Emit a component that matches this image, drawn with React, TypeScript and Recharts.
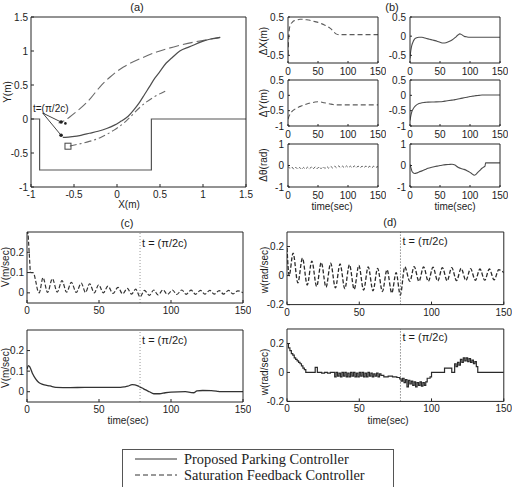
import React from 'react';
import { LineChart, Line, XAxis, YAxis, ReferenceLine, ReferenceDot } from 'recharts';

const FONT = '"Liberation Sans", Arial, sans-serif';
const SERIF = '"Liberation Serif", "Times New Roman", serif';
const INK = '#1c1c1c';
const AXIS = '#262626';
const PROP = '#4d4d4d';
const SAT = '#5c5c5c';

// ---- (a) X-Y plane: parking slot outline and the three paths ----
const lotX = [-1, -0.9, -0.9, 0.4, 0.4, 1.5];
const lotY = [0, 0, -0.75, -0.75, 0, 0];

const propPathX = [1.2, 1.1, 0.97, 0.84, 0.73, 0.64, 0.57, 0.5, 0.44, 0.38, 0.32, 0.26, 0.2, 0.13, 0.05, -0.03, -0.12, -0.22, -0.32, -0.42, -0.52, -0.6, -0.63];
const propPathY = [1.2, 1.18, 1.13, 1.06, 1.0, 0.9, 0.82, 0.7, 0.6, 0.48, 0.36, 0.24, 0.14, 0.04, -0.03, -0.09, -0.14, -0.18, -0.21, -0.24, -0.26, -0.27, -0.27];

const satPathX = [1.2, 1.12, 0.89, 0.66, 0.46, 0.27, 0.075, -0.08, -0.2, -0.31, -0.43, -0.55, -0.62, -0.68];
const satPathY = [1.2, 1.18, 1.13, 1.06, 0.985, 0.887, 0.765, 0.618, 0.47, 0.3, 0.152, 0.03, -0.03, -0.06];

const refPathX = [0.56, 0.425, 0.27, 0.114, -0.04, -0.196, -0.35, -0.507, -0.55];
const refPathY = [0.41, 0.32, 0.176, -0.02, -0.167, -0.275, -0.34, -0.387, -0.4];

const goalX = -0.57;
const goalY = -0.4;
const arrowFrom = [-0.864, 0.088];
const arrowSat = [-0.65, -0.045];
const arrowProp = [-0.65, -0.24];
const satEndDot = [-0.6, -0.065];

// ---- (b) pose errors vs time ----
const dxSatT = [0, 0.5, 1, 2, 4, 7, 10, 15, 20, 25, 30, 35, 40, 45, 50, 55, 60, 65, 70, 75, 80, 85, 90, 100, 110, 120, 130, 140, 150];
const dxSat = [-0.5, -0.3, -0.1, 0.15, 0.3, 0.36, 0.4, 0.42, 0.44, 0.44, 0.43, 0.42, 0.4, 0.38, 0.36, 0.33, 0.3, 0.26, 0.21, 0.14, 0.06, 0.04, 0.04, 0.04, 0.04, 0.04, 0.04, 0.04, 0.04];

const dxPropT = [0, 1, 2, 3, 5, 7, 10, 15, 20, 25, 30, 35, 40, 45, 50, 55, 60, 65, 70, 75, 80, 83, 86, 90, 95, 100, 110, 120, 130, 140, 150];
const dxProp = [-0.58, -0.42, -0.32, -0.24, -0.15, -0.09, -0.05, -0.03, -0.03, -0.05, -0.07, -0.09, -0.11, -0.13, -0.16, -0.18, -0.17, -0.14, -0.1, -0.04, 0.03, 0.06, 0.04, 0.0, -0.02, -0.03, -0.03, -0.03, -0.03, -0.03, -0.03];

const dySatT = [0, 2, 4, 6, 8, 10, 14, 18, 22, 26, 30, 35, 40, 45, 50, 55, 60, 65, 70, 75, 80, 90, 100, 110, 120, 130, 140, 150];
const dySat = [-0.78, -0.67, -0.6, -0.54, -0.5, -0.47, -0.42, -0.38, -0.35, -0.32, -0.29, -0.26, -0.24, -0.22, -0.21, -0.22, -0.24, -0.26, -0.28, -0.3, -0.31, -0.31, -0.31, -0.31, -0.31, -0.31, -0.31, -0.31];

const dyPropT = [0, 1, 2, 3, 5, 7, 10, 15, 20, 25, 30, 40, 50, 55, 60, 65, 70, 75, 80, 85, 90, 95, 100, 105, 110, 115, 120, 130, 140, 150];
const dyProp = [-0.82, -0.7, -0.61, -0.54, -0.45, -0.39, -0.33, -0.27, -0.24, -0.23, -0.22, -0.215, -0.21, -0.2, -0.185, -0.17, -0.155, -0.14, -0.12, -0.1, -0.08, -0.06, -0.04, -0.025, -0.01, 0.0, 0.01, 0.01, 0.01, 0.01];

const dthSatT = [0, 3, 6.5, 9.5, 13, 16, 19.5, 22.5, 26, 29, 32.5, 35.5, 39, 42, 45.5, 48.5, 52, 55, 58.5, 61.5, 65, 68, 71.5, 74.5, 78, 81, 84.5, 87.5, 91, 94, 97.5, 100.5, 104, 107, 110.5, 113.5, 117, 120, 123.5, 126.5, 130, 133, 136.5, 139.5, 143, 146, 150];
const dthSat = [-0.04, -0.13, -0.07, -0.17, -0.08, -0.17, -0.09, -0.18, -0.09, -0.17, -0.08, -0.16, -0.07, -0.16, -0.06, -0.15, -0.05, -0.15, -0.05, -0.14, -0.05, -0.13, -0.04, -0.12, -0.03, -0.11, -0.02, -0.1, -0.03, -0.11, -0.02, -0.1, -0.03, -0.11, -0.02, -0.1, -0.03, -0.11, -0.03, -0.1, -0.02, -0.1, -0.03, -0.11, -0.03, -0.09, -0.05];

const dthPropT = [0, 1, 2, 3, 5, 8, 11, 15, 20, 25, 30, 35, 40, 45, 50, 55, 60, 65, 70, 75, 80, 85, 90, 95, 100, 104, 107, 110, 113, 116, 120, 123, 125, 126, 130, 140, 150];
const dthProp = [0.05, -0.05, -0.15, -0.25, -0.33, -0.37, -0.35, -0.3, -0.25, -0.19, -0.13, -0.09, -0.06, -0.03, 0.0, 0.02, 0.04, 0.05, 0.06, 0.02, -0.08, -0.14, -0.18, -0.24, -0.32, -0.4, -0.45, -0.41, -0.32, -0.24, -0.13, -0.07, -0.03, 0.12, 0.12, 0.12, 0.12];

// ---- (c) linear velocity ----
const vSatT = [0, 0.5, 1.5, 2.5, 4, 5, 6, 7.5, 8.5, 11.1, 14.3, 17.6, 21, 24.3, 27.5, 30.8, 34.2, 37.7, 40.6, 43.5, 46.7, 49.8, 53, 56.2, 59.7, 63.2, 66.4, 69.7, 72.6, 75.5, 78.5, 81.5, 85, 88, 91, 94.5, 97.5, 101, 104, 107.5, 110.5, 114, 117, 120.5, 123.5, 127, 130, 133.5, 136.5, 140, 143, 146.5, 150];
const vSat = [0.29, 0.3, 0.2, 0.1, 0.1, 0.09, 0.06, 0.01, 0.0, 0.075, 0.002, 0.07, 0.004, 0.06, 0.003, 0.052, 0.002, 0.048, 0.002, 0.045, 0.0, 0.04, 0.0, 0.033, -0.003, 0.027, -0.005, 0.022, -0.006, 0.018, -0.02, 0.012, -0.012, 0.014, -0.01, 0.015, -0.008, 0.014, -0.008, 0.014, -0.007, 0.013, -0.007, 0.012, -0.006, 0.012, -0.006, 0.011, -0.006, 0.012, -0.005, 0.01, 0.0];

const vPropT = [0, 1, 2, 4, 6, 8, 10, 12, 16, 20, 30, 40, 50, 60, 65, 68, 70, 73, 75, 78, 80, 82, 85, 88, 92, 96, 100, 110, 114, 116, 118, 122, 128, 132, 134, 150];
const vProp = [0.11, 0.127, 0.12, 0.086, 0.062, 0.046, 0.038, 0.033, 0.028, 0.021, 0.02, 0.021, 0.021, 0.021, 0.021, 0.024, 0.027, 0.034, 0.033, 0.025, 0.018, 0.01, 0.0, -0.01, -0.01, -0.005, -0.002, 0.0, -0.004, -0.005, 0.004, 0.006, 0.005, 0.002, 0.0, 0.0];

// ---- (d) angular velocity ----
const wSatT = [0, 1.5, 4.2, 7.5, 10.7, 14, 17.2, 20.5, 23.7, 27, 30.2, 33.5, 36.7, 40, 43.2, 46.5, 49.7, 53, 56.2, 59.5, 62.7, 66, 69.2, 72.5, 75.5, 78.4, 81.5, 85, 88, 91.3, 94.5, 97.8, 101, 104.3, 107.5, 110.8, 114, 117.3, 120.5, 123.8, 127, 130.3, 133.5, 136.8, 140, 143.3, 146.5, 150];
const wSat = [0.19, 0.0, 0.155, -0.05, 0.12, -0.065, 0.1, -0.075, 0.09, -0.08, 0.085, -0.085, 0.08, -0.09, 0.075, -0.095, 0.07, -0.1, 0.06, -0.105, 0.05, -0.11, 0.04, -0.12, 0.02, -0.135, 0.06, -0.04, 0.062, -0.04, 0.06, -0.04, 0.058, -0.038, 0.055, -0.036, 0.055, -0.035, 0.05, -0.034, 0.048, -0.033, 0.045, -0.032, 0.045, -0.03, 0.04, 0.02];

const wPropT = [0, 1, 2, 3, 4, 5, 6, 7, 8, 9, 10, 11, 12, 13, 19.5, 21, 24, 26, 28, 30,
  33, 34, 35, 36, 37, 38, 39, 40, 41, 42, 43, 44, 45, 46, 47, 48, 49, 50, 51, 52, 53, 54, 55, 56, 57, 58, 59, 60, 61, 62, 63, 64,
  65, 67, 70, 73, 76, 78, 79, 80, 81, 82, 83, 84, 85, 86, 87, 88, 89, 90, 91, 92, 93, 94, 95, 96, 97, 99, 100, 109, 114,
  116, 117, 118, 119, 120, 121, 122, 123, 124, 125, 126, 127, 128, 129, 130, 131, 132, 150];
const wProp = [0.2, 0.17, 0.15, 0.13, 0.12, 0.1, 0.09, 0.08, 0.07, 0.06, 0.045, 0.03, 0.02, 0, 0.035, 0, -0.005, 0, -0.005, 0,
  -0.03, 0, -0.025, -0.005, -0.03, 0, -0.025, 0, -0.03, -0.005, -0.03, 0, -0.025, 0, -0.03, -0.005, -0.03, 0, -0.025, 0, -0.03, -0.005, -0.03, 0, -0.025, -0.005, -0.03, -0.01, -0.025, -0.005, -0.03, -0.01,
  -0.02, -0.03, -0.025, -0.03, -0.035, -0.045, -0.06, -0.04, -0.07, -0.05, -0.1, -0.055, -0.08, -0.06, -0.09, -0.065, -0.1, -0.07, -0.09, -0.065, -0.095, -0.07, -0.09, -0.065, -0.04, -0.03, 0, 0.03, 0,
  0.06, 0.04, 0.07, 0.05, 0.09, 0.07, 0.1, 0.08, 0.1, 0.075, 0.095, 0.07, 0.085, 0.06, 0.075, 0.04, 0, 0];

const timeTicks = [0, 50, 100, 150];
const PI_2C = 78.5;

type Curve = {
  xs: number[];
  ys: number[];
  stroke?: string;
  dash?: string;
  width?: number;
  kind?: 'linear' | 'monotone' | 'natural' | 'stepAfter';
};

interface PanelProps {
  left: number;
  top: number;
  w: number;
  h: number;
  xDomain: [number, number];
  yDomain: [number, number];
  xTicks: number[];
  yTicks: number[];
  curves: Curve[];
  tickLen?: number;
  children?: React.ReactNode;
}

// outer padding around each plot box; every axis is 1px thick, so margins are one less
const ML = 40, MR = 8, MT = 8, MB = 20;

const Panel: React.FC<PanelProps> = ({ left, top, w, h, xDomain, yDomain, xTicks, yTicks, curves, tickLen = 3, children }) => {
    const tickText = { fill: INK, fontSize: 10, fontFamily: FONT };
    const edge = { stroke: AXIS, strokeWidth: 1 };
    return (
        <div style={{ position: 'absolute', left: left - ML, top: top - MT }}>
            <LineChart width={w + ML + MR} height={h + MT + MB} margin={{ top: MT - 1, right: MR - 1, bottom: MB - 1, left: ML - 1 }}>
                <XAxis xAxisId="b" type="number" dataKey="x" domain={xDomain} ticks={xTicks} interval={0} allowDataOverflow
                    height={1} tickSize={-tickLen} tickMargin={7} axisLine={edge} tickLine={edge} tick={tickText} />
                <XAxis xAxisId="t" orientation="top" type="number" dataKey="x" domain={xDomain} ticks={xTicks} interval={0} allowDataOverflow
                    height={1} tickSize={-tickLen} axisLine={edge} tickLine={edge} tick={false} />
                <YAxis yAxisId="l" type="number" domain={yDomain} ticks={yTicks} interval={0} allowDataOverflow
                    width={1} tickSize={-tickLen} tickMargin={6} axisLine={edge} tickLine={edge} tick={tickText} />
                <YAxis yAxisId="r" orientation="right" type="number" domain={yDomain} ticks={yTicks} interval={0} allowDataOverflow
                    width={1} tickSize={-tickLen} axisLine={edge} tickLine={edge} tick={false} />
                {curves.map((c, i) => (
                    <Line
                        key={i}
                        xAxisId="b"
                        yAxisId="l"
                        data={c.xs.map((x, j) => ({ x, y: c.ys[j] }))}
                        dataKey="y"
                        type={c.kind ?? 'linear'}
                        stroke={c.stroke ?? PROP}
                        strokeWidth={c.width ?? 1.1}
                        strokeDasharray={c.dash}
                        dot={false}
                        activeDot={false}
                        isAnimationActive={false}
                    />
                ))}
                {children}
            </LineChart>
        </div>
    );
};

// dotted marker at t = pi/2c with its caption
const piMark = (color: string, dy: number) => (
    <ReferenceLine
        xAxisId="b"
        yAxisId="l"
        x={PI_2C}
        stroke={color}
        strokeDasharray="1 2"
        label={(p: any) => (
            <text x={p.viewBox.x + 2} y={p.viewBox.y + dy} fontSize={11} fontFamily={FONT} fill={INK}>
                t = (π/2c)
            </text>
        )}
    />
);

const Vlabel = ({ x, y, text }: { x: number; y: number; text: string }) => (
    <text transform={`translate(${x},${y}) rotate(-90)`} textAnchor="middle" dominantBaseline="central"
        fontSize={10} fontFamily={FONT} fill={INK}>{text}</text>
);

const Hlabel = ({ x, y, text, size = 10 }: { x: number; y: number; text: string; size?: number }) => (
    <text x={x} y={y} textAnchor="middle" dominantBaseline="central" fontSize={size} fontFamily={FONT} fill={INK}>{text}</text>
);

const bCols = [288, 410];
const bRows = [17.3, 80.3, 143.5];
const bHeights = [46, 46, 43];

export default function App() {
    return (
        <div style={{ position: 'absolute', left: 0, top: 0, width: 516, height: 487, background: '#fff', overflow: 'hidden' }}>
            {/* (a) */}
            <Panel left={31} top={16.7} w={215} h={170} xDomain={[-1, 1.5]} yDomain={[-1, 1.5]}
                xTicks={[-1, -0.5, 0, 0.5, 1, 1.5]} yTicks={[-1, -0.5, 0, 0.5, 1, 1.5]}
                curves={[
                    { xs: lotX, ys: lotY, stroke: '#555', width: 1.2 },
                    { xs: satPathX, ys: satPathY, stroke: '#6a6a6a', dash: '10 4', kind: 'natural' },
                    { xs: refPathX, ys: refPathY, stroke: '#6a6a6a', dash: '7 3 2 3', kind: 'natural' },
                    { xs: propPathX, ys: propPathY, stroke: PROP, width: 1.2, kind: 'natural' },
                    { xs: [arrowFrom[0], arrowSat[0]], ys: [arrowFrom[1], arrowSat[1]], stroke: '#444', width: 1 },
                    { xs: [arrowFrom[0], arrowProp[0]], ys: [arrowFrom[1], arrowProp[1]], stroke: '#444', width: 1 },
                ]}>
                <ReferenceDot xAxisId="b" yAxisId="l" x={arrowSat[0]} y={arrowSat[1]} r={1.8} fill="#222" stroke="none" />
                <ReferenceDot xAxisId="b" yAxisId="l" x={arrowProp[0]} y={arrowProp[1]} r={1.8} fill="#222" stroke="none" />
                <ReferenceDot xAxisId="b" yAxisId="l" x={satEndDot[0]} y={satEndDot[1]} r={1.3} fill="#222" stroke="none" />
                <ReferenceDot xAxisId="b" yAxisId="l" x={goalX} y={goalY} r={3}
                    shape={(p: any) => <rect x={p.cx - 3} y={p.cy - 3} width={6} height={6} fill="none" stroke="#444" strokeWidth={1} />} />
            </Panel>

            {/* (b) */}
            <Panel left={bCols[0]} top={bRows[0]} w={90} h={bHeights[0]} xDomain={[0, 150]} yDomain={[-0.7, 0.5]} xTicks={timeTicks} yTicks={[-0.5, 0, 0.5]} tickLen={2}
                curves={[{ xs: dxSatT, ys: dxSat, stroke: SAT, dash: '5 3', kind: 'monotone' }]} />
            <Panel left={bCols[1]} top={bRows[0]} w={90} h={bHeights[0]} xDomain={[0, 150]} yDomain={[-0.7, 0.5]} xTicks={timeTicks} yTicks={[-0.5, 0, 0.5]} tickLen={2}
                curves={[{ xs: dxPropT, ys: dxProp, stroke: PROP, kind: 'monotone' }]} />
            <Panel left={bCols[0]} top={bRows[1]} w={90} h={bHeights[1]} xDomain={[0, 150]} yDomain={[-1, 0.5]} xTicks={timeTicks} yTicks={[-1, -0.5, 0, 0.5]} tickLen={2}
                curves={[{ xs: dySatT, ys: dySat, stroke: SAT, dash: '5 3', kind: 'monotone' }]} />
            <Panel left={bCols[1]} top={bRows[1]} w={90} h={bHeights[1]} xDomain={[0, 150]} yDomain={[-1, 0.5]} xTicks={timeTicks} yTicks={[-1, -0.5, 0, 0.5]} tickLen={2}
                curves={[{ xs: dyPropT, ys: dyProp, stroke: PROP, kind: 'monotone' }]} />
            <Panel left={bCols[0]} top={bRows[2]} w={90} h={bHeights[2]} xDomain={[0, 150]} yDomain={[-1, 1]} xTicks={timeTicks} yTicks={[-1, 0, 1]} tickLen={2}
                curves={[{ xs: dthSatT, ys: dthSat, stroke: SAT, dash: '3 2', width: 1 }]} />
            <Panel left={bCols[1]} top={bRows[2]} w={90} h={bHeights[2]} xDomain={[0, 150]} yDomain={[-1, 1]} xTicks={timeTicks} yTicks={[-1, 0, 1]} tickLen={2}
                curves={[{ xs: dthPropT, ys: dthProp, stroke: PROP, kind: 'monotone' }]} />

            {/* (c) */}
            <Panel left={27.3} top={231.5} w={216} h={71} xDomain={[0, 150]} yDomain={[-0.05, 0.3]} xTicks={timeTicks} yTicks={[0, 0.1, 0.2]}
                curves={[{ xs: vSatT, ys: vSat, stroke: '#333', dash: '4 2', width: 1.2, kind: 'monotone' }]}>
                {piMark('#999', 15)}
            </Panel>
            <Panel left={27.3} top={329.5} w={216} h={72} xDomain={[0, 150]} yDomain={[-0.05, 0.3]} xTicks={timeTicks} yTicks={[0, 0.1, 0.2]}
                curves={[{ xs: vPropT, ys: vProp, stroke: '#333', width: 1.3, kind: 'monotone' }]}>
                {piMark('#999', 14)}
            </Panel>

            {/* (d) */}
            <Panel left={287.2} top={231.7} w={216.8} h={72.6} xDomain={[0, 150]} yDomain={[-0.2, 0.3]} xTicks={timeTicks} yTicks={[-0.2, 0, 0.2]}
                curves={[{ xs: wSatT, ys: wSat, stroke: '#2a2a2a', dash: '4 2', width: 1.3, kind: 'monotone' }]}>
                {piMark('#555', 13)}
            </Panel>
            <Panel left={287.2} top={329.3} w={216.8} h={72.4} xDomain={[0, 150]} yDomain={[-0.2, 0.3]} xTicks={timeTicks} yTicks={[-0.2, 0, 0.2]}
                curves={[{ xs: wPropT, ys: wProp, stroke: '#2a2a2a', width: 1.2, kind: 'stepAfter' }]}>
                {piMark('#555', 12)}
            </Panel>

            {/* titles, axis names and legend */}
            <svg width={516} height={487} style={{ position: 'absolute', left: 0, top: 0, pointerEvents: 'none' }}>
                <Hlabel x={137} y={7} text="(a)" size={11} />
                <Hlabel x={392} y={7} text="(b)" size={11} />
                <Hlabel x={127} y={223} text="(c)" size={11} />
                <Hlabel x={390} y={222} text="(d)" size={11} />

                <Vlabel x={7} y={92} text="Y(m)" />
                <Hlabel x={129} y={204} text="X(m)" />
                <text x={33} y={111.5} fontSize={10} fontFamily={FONT} fill={INK}>t=(π/2c)</text>

                <Vlabel x={263} y={41} text="ΔX(m)" />
                <Vlabel x={263} y={103} text="ΔY(m)" />
                <Vlabel x={263} y={165} text="Δθ(rad)" />
                <Hlabel x={332} y={206} text="time(sec)" />
                <Hlabel x={455} y={206} text="time(sec)" />

                <Vlabel x={5.5} y={267} text="V(m/sec)" />
                <Vlabel x={5.5} y={368} text="V(m/sec)" />
                <Hlabel x={128} y={420} text="time(sec)" />
                <Vlabel x={264} y={270} text="w(rad/sec)" />
                <Vlabel x={264} y={372} text="w(rad/sec)" />
                <Hlabel x={388} y={420} text="time(sec)" />

                <rect x={122.5} y={449.5} width={271} height={60} fill="none" stroke="#555" strokeWidth={1} />
                <line x1={135} y1={459} x2={177} y2={459} stroke="#333" strokeWidth={1} />
                <line x1={135} y1={475} x2={177} y2={475} stroke="#333" strokeWidth={1} strokeDasharray="5 3" />
                <text x={184} y={463.5} fontSize={14.4} fontFamily={SERIF} fill="#222">Proposed Parking Controller</text>
                <text x={184} y={479.5} fontSize={14.4} fontFamily={SERIF} fill="#222">Saturation Feedback Controller</text>
            </svg>
        </div>
    );
}
